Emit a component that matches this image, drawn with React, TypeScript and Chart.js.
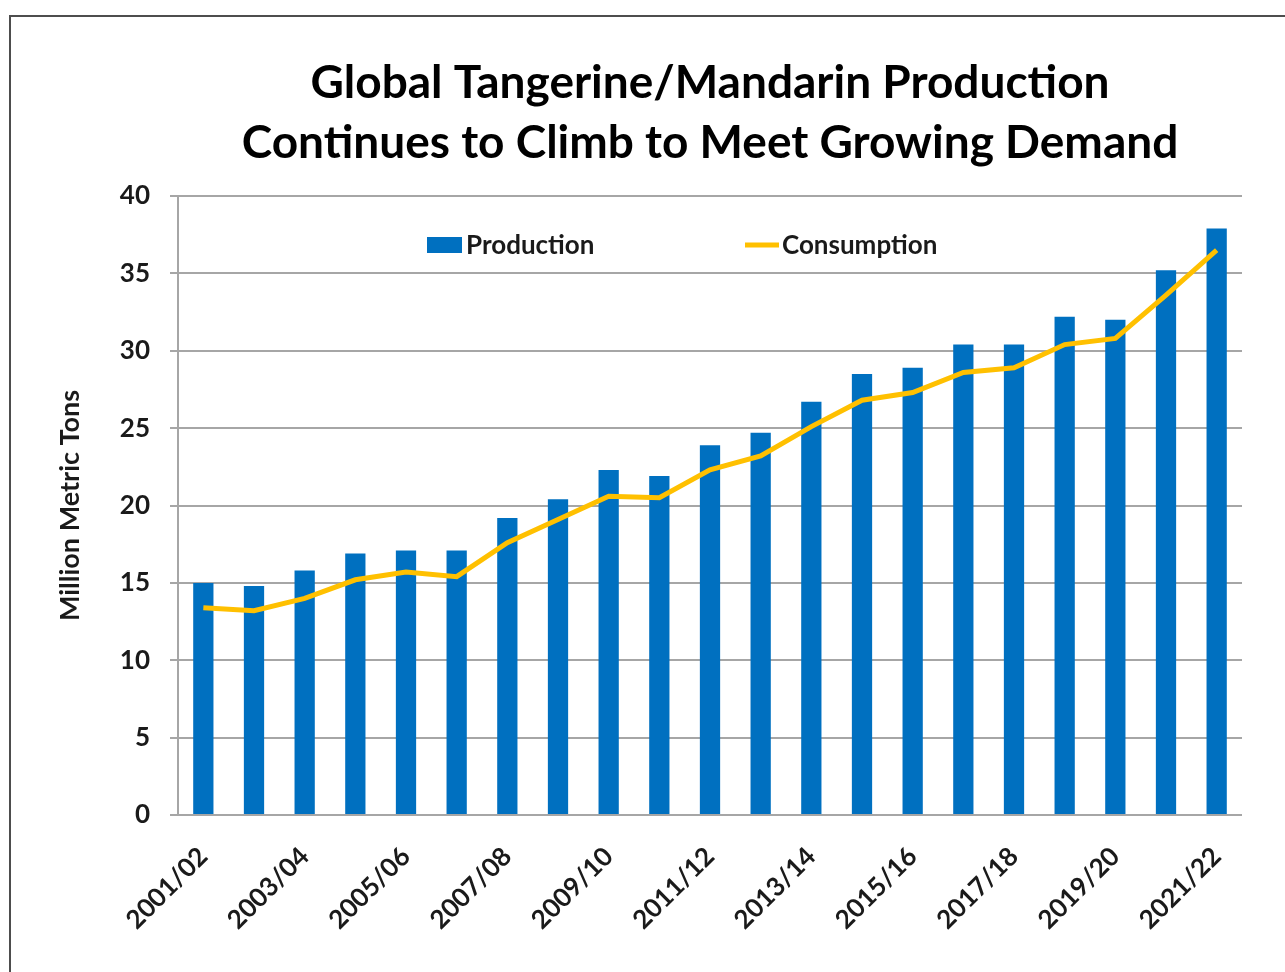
import React, { useEffect, useRef } from "react";
import { Chart, registerables } from "chart.js";

Chart.register(...registerables);

const seasons = [
  "2001/02", "2002/03", "2003/04", "2004/05", "2005/06", "2006/07", "2007/08",
  "2008/09", "2009/10", "2010/11", "2011/12", "2012/13", "2013/14", "2014/15",
  "2015/16", "2016/17", "2017/18", "2018/19", "2019/20", "2020/21", "2021/22",
];
const production = [
  15.0, 14.8, 15.8, 16.9, 17.1, 17.1, 19.2, 20.4, 22.3, 21.9, 23.9,
  24.7, 26.7, 28.5, 28.9, 30.4, 30.4, 32.2, 32.0, 35.2, 37.9,
];
const consumption = [
  13.4, 13.2, 14.0, 15.2, 15.7, 15.4, 17.6, 19.1, 20.6, 20.5, 22.3,
  23.2, 25.1, 26.8, 27.3, 28.6, 28.9, 30.4, 30.8, 33.6, 36.5,
];
const titleLines = [
  "Global Tangerine/Mandarin Production",
  "Continues to Climb to Meet Growing Demand",
];
const yAxisTitle = "Million Metric Tons";
const seriesNames = ["Production", "Consumption"];

const BLUE = "#0070C0";
const GOLD = "#FFC000";
const GRID = "#a6a6a6";
const FONT = "Lato, 'Open Sans', sans-serif";

const framePlugin = {
  id: "frame",
  beforeDraw(chart: any) {
    const ctx = chart.ctx;
    ctx.save();
    ctx.strokeStyle = "#4d4d4d";
    ctx.lineWidth = 2;
    ctx.beginPath();
    ctx.moveTo(10, chart.height);
    ctx.lineTo(10, 16);
    ctx.lineTo(chart.width, 16);
    ctx.stroke();
    ctx.restore();
  },
};

const legendPlugin = {
  id: "inlineLegend",
  afterDraw(chart: any) {
    const ctx = chart.ctx;
    const area = chart.chartArea;
    const y = area.top + 49;
    const bar = chart.data.datasets.find((d: any) => d.type === "bar");
    const line = chart.data.datasets.find((d: any) => d.type === "line");
    ctx.save();
    ctx.font = `bold 26px ${FONT}`;
    ctx.textBaseline = "middle";
    // Production item
    let x = area.left + 249;
    ctx.fillStyle = bar.backgroundColor;
    ctx.fillRect(x, y - 8, 35, 16);
    ctx.fillStyle = "#1a1a1a";
    ctx.fillText(bar.label, x + 39, y + 1);
    // Consumption item
    x = area.left + 567;
    ctx.strokeStyle = line.borderColor;
    ctx.lineWidth = 5;
    ctx.beginPath();
    ctx.moveTo(x, y);
    ctx.lineTo(x + 34, y);
    ctx.stroke();
    ctx.fillStyle = "#1a1a1a";
    ctx.fillText(line.label, x + 37, y + 1);
    ctx.restore();
  },
};

export default function App() {
  const ref = useRef<HTMLCanvasElement | null>(null);

  useEffect(() => {
    if (!ref.current) return;
    const chart = new Chart(ref.current, {
      type: "bar",
      data: {
        labels: seasons,
        datasets: [
          {
            type: "bar",
            label: seriesNames[0],
            data: production,
            backgroundColor: BLUE,
            barPercentage: 0.4,
            categoryPercentage: 1,
            order: 1,
          },
          {
            type: "line",
            label: seriesNames[1],
            data: consumption,
            borderColor: GOLD,
            backgroundColor: GOLD,
            borderWidth: 5,
            pointRadius: 0,
            tension: 0,
            order: 0,
          } as any,
        ],
      },
      options: {
        animation: false,
        responsive: false,
        layout: { padding: { left: 38, right: 43, top: 0, bottom: 0 } },
        plugins: {
          legend: { display: false },
          tooltip: { enabled: false },
          title: {
            display: true,
            text: titleLines,
            fullSize: false,
            color: "#000",
            font: { family: FONT, size: 46, weight: "bold", lineHeight: "60px" },
            padding: { top: 53, bottom: 23 },
          },
        },
        scales: {
          x: {
            grid: { display: false, drawTicks: false },
            border: { display: false },
            ticks: {
              autoSkip: false,
              maxRotation: 45,
              minRotation: 45,
              padding: 26,
              color: "#1a1a1a",
              font: { family: FONT, size: 26, weight: "bold" },
              callback: (_v: any, i: number) => (i % 2 === 0 ? seasons[i] : ""),
            },
            afterFit(scale: any) {
              scale.height = 157;
            },
          },
          y: {
            min: 0,
            max: 40,
            ticks: {
              stepSize: 5,
              padding: 20,
              color: "#1a1a1a",
              font: { family: FONT, size: 26, weight: "bold" },
            },
            grid: { color: GRID, lineWidth: 2, tickLength: 8 },
            border: { color: GRID, width: 2 },
            title: {
              display: true,
              text: yAxisTitle,
              color: "#1a1a1a",
              font: { family: FONT, size: 27, weight: "bold" },
              padding: { top: 16, bottom: 0 },
            },
            afterFit(scale: any) {
              scale.width = 140;
            },
          },
        },
      },
      plugins: [framePlugin, legendPlugin],
    });
    return () => chart.destroy();
  }, []);

  return (
    <div style={{ position: "absolute", left: 0, top: 0, width: 1285, height: 972, background: "#fff" }}>
      <canvas ref={ref} width={1285} height={972} style={{ display: "block" }} />
    </div>
  );
}
